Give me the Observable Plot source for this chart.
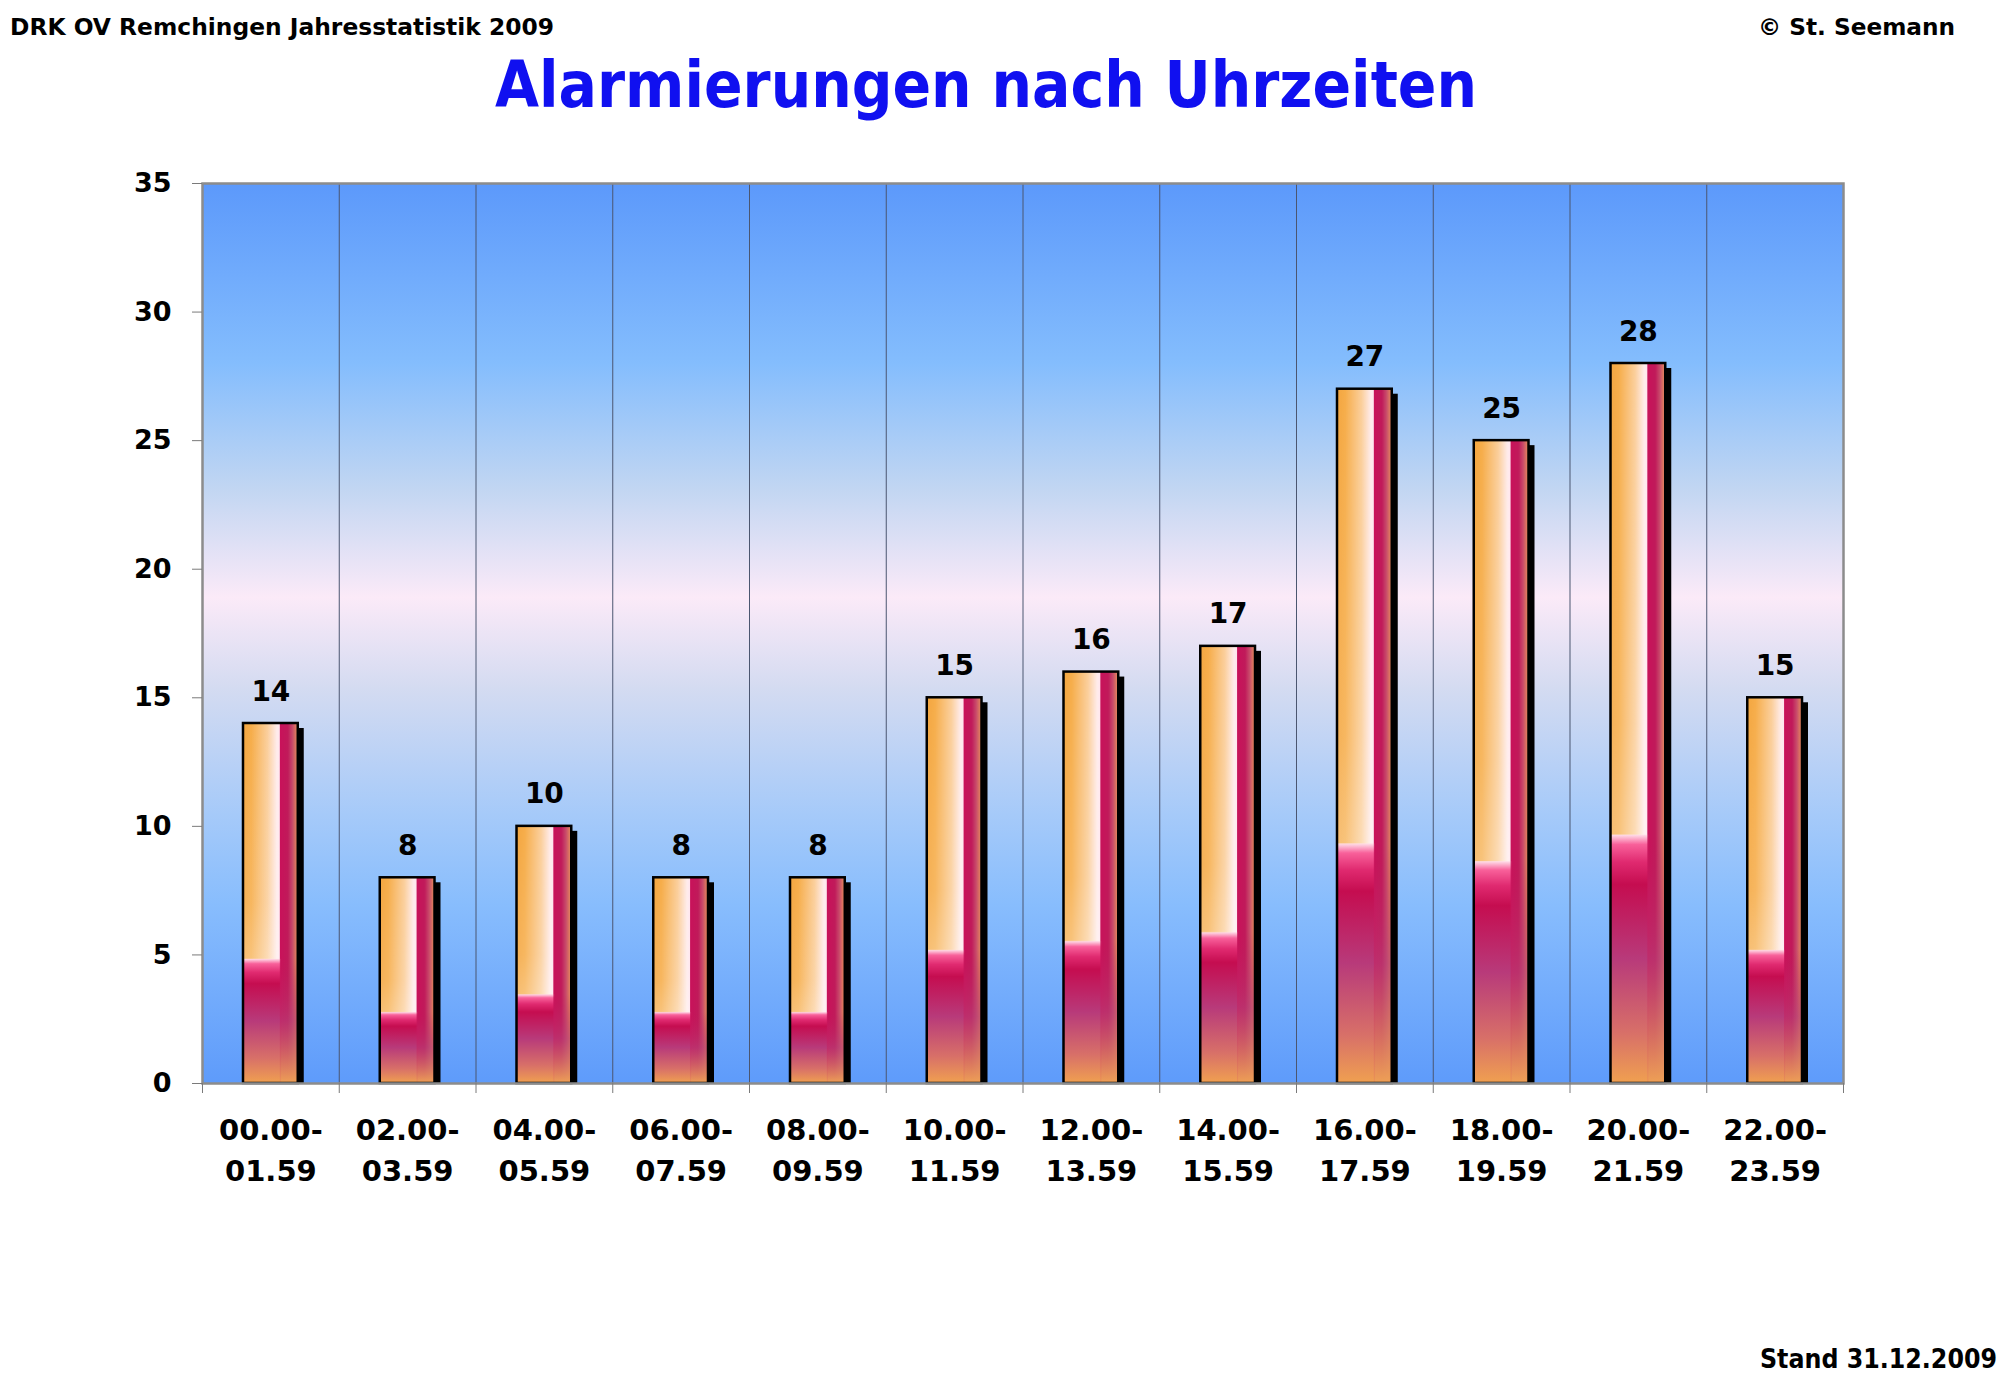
<!DOCTYPE html>
<html>
<head>
<meta charset="utf-8">
<script src="https://cdn.jsdelivr.net/npm/d3@7"></script>
<script src="https://cdn.jsdelivr.net/npm/@observablehq/plot@0.6"></script>
<style>
  html, body { margin: 0; padding: 0; background: #ffffff; }
  #page { position: relative; width: 2000px; height: 1387px; overflow: hidden; background: #ffffff; font-family: "DejaVu Sans", sans-serif; font-weight: bold; }
  .txt { position: absolute; white-space: nowrap; line-height: 1; display: inline-block; }
  #chart { position: absolute; left: 0; top: 0; }
</style>
</head>
<body>
<div id="page">
  <div id="chart"></div>
  <span class="txt" id="hdrLeft" style="left:10px; top:16px; font-size:23px; color:#000;">DRK OV Remchingen Jahresstatistik 2009</span>
  <span class="txt" id="hdrRight" style="left:1758px; top:16px; font-size:23px; color:#000;">© St. Seemann</span>
  <span class="txt" id="title" style="left:495px; top:53px; font-size:64px; color:#1010f0;">Alarmierungen nach Uhrzeiten</span>
  <span class="txt" id="stand" style="left:1760px; top:1346px; font-size:26px; color:#000;">Stand 31.12.2009</span>
</div>
<script>
// ---- data ----
const categories = [
  "00.00-\n01.59", "02.00-\n03.59", "04.00-\n05.59", "06.00-\n07.59",
  "08.00-\n09.59", "10.00-\n11.59", "12.00-\n13.59", "14.00-\n15.59",
  "16.00-\n17.59", "18.00-\n19.59", "20.00-\n21.59", "22.00-\n23.59"
];
const values = [14, 8, 10, 8, 8, 15, 16, 17, 27, 25, 28, 15];
const yTicks = [0, 5, 10, 15, 20, 25, 30, 35];

const data = categories.map((c, i) => ({i, label: c, value: values[i]}));

const chart = Plot.plot({
  width: 2000,
  height: 1250,
  marginTop: 183,
  marginBottom: 167,
  marginLeft: 202,
  marginRight: 157,
  x: {domain: [0, categories.length], axis: null},
  y: {domain: [0, 35], axis: null},
  style: {fontFamily: "DejaVu Sans", fontWeight: "bold", background: "transparent", overflow: "visible", color: "#000"},
  marks: [
    Plot.frame({fill: "url(#bgGrad)", stroke: "none"}),
    Plot.ruleX(d3.range(1, categories.length), {stroke: "#4b5670", strokeWidth: 1}),
    // shadow
    Plot.rectY(data, {x1: "i", x2: d => d.i + 1, y: "value", insetLeft: 41, insetRight: 41, insetTop: 5, dx: 6, fill: "#000"}),
    // bars
    Plot.rectY(data, {x1: "i", x2: d => d.i + 1, y: "value", insetLeft: 41, insetRight: 41, fill: "url(#barFill)", stroke: "#000", strokeWidth: 2.5}),
    Plot.text(data, {x: d => d.i + 0.5, y: "value", text: d => String(d.value), dy: -23, lineAnchor: "bottom", fontSize: 28, fontWeight: "bold", fill: "#000"}),
    Plot.frame({stroke: "#8c8c8c", strokeWidth: 2.5}),
    Plot.axisY({ticks: yTicks, tickSize: 10, tickPadding: 21, fontSize: 27, stroke: "#7a7a7a", label: null}),
    Plot.axisX({ticks: d3.range(0, categories.length + 1), tickSize: 10, tickFormat: () => "", stroke: "#7a7a7a", label: null}),
    Plot.axisX({ticks: d3.range(categories.length).map(i => i + 0.5), tickSize: 0, tickPadding: 28, tickFormat: d => categories[Math.floor(d)], fontSize: 29, lineHeight: 1.4, label: null})
  ]
});

// gradient definitions
const NS = "http://www.w3.org/2000/svg";
const defs = document.createElementNS(NS, "defs");
defs.innerHTML = `
  <linearGradient id="bgGrad" x1="0" y1="0" x2="0" y2="1">
    <stop offset="0" stop-color="#5c99fb"/>
    <stop offset="0.2" stop-color="#84bdfd"/>
    <stop offset="0.34" stop-color="#c2d6f2"/>
    <stop offset="0.46" stop-color="#fbeaf8"/>
    <stop offset="0.56" stop-color="#d4dbf1"/>
    <stop offset="0.7" stop-color="#a6caf9"/>
    <stop offset="0.8" stop-color="#88bdfd"/>
    <stop offset="1" stop-color="#5e9bfb"/>
  </linearGradient>
  <linearGradient id="hGrad" x1="0" y1="0" x2="1" y2="0">
    <stop offset="0" stop-color="#f3a640"/>
    <stop offset="0.15" stop-color="#f6ad4a"/>
    <stop offset="0.45" stop-color="#fbcf9c"/>
    <stop offset="0.62" stop-color="#ffecec"/>
    <stop offset="0.665" stop-color="#ffe6ee"/>
    <stop offset="0.68" stop-color="#c8125a"/>
    <stop offset="0.82" stop-color="#c01a5a"/>
    <stop offset="0.9" stop-color="#c84a6a"/>
    <stop offset="1" stop-color="#e8905a"/>
  </linearGradient>
  <linearGradient id="vWhite" x1="0" y1="0" x2="0" y2="1">
    <stop offset="0" stop-color="#ffffff" stop-opacity="0"/>
    <stop offset="0.5" stop-color="#ffffff" stop-opacity="0.12"/>
    <stop offset="1" stop-color="#ffffff" stop-opacity="0.6"/>
  </linearGradient>
  <linearGradient id="vBottom" x1="0" y1="0" x2="0" y2="1">
    <stop offset="0" stop-color="#ffe0ea"/>
    <stop offset="0.04" stop-color="#f8609a"/>
    <stop offset="0.11" stop-color="#e02a70"/>
    <stop offset="0.2" stop-color="#c50d50"/>
    <stop offset="0.5" stop-color="#b83a7a"/>
    <stop offset="0.8" stop-color="#d87068"/>
    <stop offset="1" stop-color="#f0a050"/>
  </linearGradient>
  <linearGradient id="vBottomR" x1="0" y1="0" x2="0" y2="1">
    <stop offset="0" stop-color="#c01a5a" stop-opacity="0"/>
    <stop offset="0.5" stop-color="#b84078" stop-opacity="0.6"/>
    <stop offset="1" stop-color="#eea055" stop-opacity="1"/>
  </linearGradient>
  <pattern id="barFill" patternUnits="objectBoundingBox" patternContentUnits="objectBoundingBox" width="1" height="1">
    <rect x="0" y="0" width="1" height="1" fill="url(#hGrad)"/>
    <rect x="0" y="0" width="0.67" height="1" fill="url(#vWhite)"/>
    <rect x="0" y="0.655" width="0.675" height="0.345" fill="url(#vBottom)"/>
    <rect x="0.675" y="0.655" width="0.325" height="0.345" fill="url(#vBottomR)"/>
  </pattern>`;
chart.insertBefore(defs, chart.firstChild);
document.getElementById("chart").appendChild(chart);

// fit header texts to the reference widths
function fit(id, targetWidth, origin) {
  const el = document.getElementById(id);
  const w = el.getBoundingClientRect().width;
  if (w > 0) {
    el.style.transformOrigin = origin;
    el.style.transform = `scaleX(${targetWidth / w})`;
  }
}
fit("hdrLeft", 544, "left top");
fit("hdrRight", 197, "left top");
fit("title", 982, "left top");
fit("stand", 237, "left top");
</script>
</body>
</html>
